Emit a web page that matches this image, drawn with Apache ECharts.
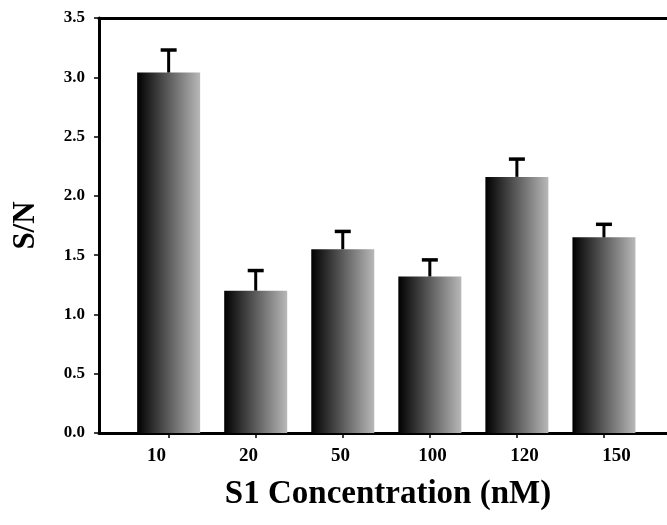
<!DOCTYPE html>
<html>
<head>
<meta charset="utf-8">
<script src="https://cdn.jsdelivr.net/npm/echarts@6/dist/echarts.min.js"></script>
<style>
html,body{margin:0;padding:0;background:#fff;}
#c{width:667px;height:525px;}
</style>
</head>
<body>
<div id="c"></div>
<script>
var categories = ['10', '20', '50', '100', '120', '150'];
var snValues = [3.04, 1.20, 1.55, 1.32, 2.16, 1.65];
var snErrors = [0.19, 0.17, 0.15, 0.14, 0.15, 0.11];

var positions = categories.map(function (c, i) { return i + 1; });
var barData = snValues.map(function (v, i) { return [positions[i], v]; });
var errData = snValues.map(function (v, i) { return [positions[i], v, v + snErrors[i]]; });

var FONT = "'Liberation Serif', 'Times New Roman', serif";

var chart = echarts.init(document.getElementById('c'), null, {renderer: 'canvas'});
chart.setOption({
  animation: false,
  backgroundColor: '#fff',
  grid: {left: 99, width: 592, top: 18, bottom: 92, containLabel: false, outerBoundsMode: 'none'},
  xAxis: [
    {
      type: 'value', position: 'bottom', min: 0.2, max: 7,
      axisLine: {show: true, onZero: false, lineStyle: {color: '#000', width: 3}},
      axisTick: {show: true, customValues: positions, length: 5, lineStyle: {color: '#000', width: 1.5}},
      axisLabel: {show: false},
      splitLine: {show: false},
      name: 'S1 Concentration (nM)',
      nameLocation: 'middle',
      nameGap: 45,
      nameTextStyle: {fontFamily: FONT, fontWeight: 'bold', fontSize: 33, color: '#000', padding: [0, 14, 0, 0]}
    },
    {
      type: 'value', position: 'bottom', min: 0.374, max: 6.809,
      axisLine: {show: false},
      axisTick: {show: false},
      splitLine: {show: false},
      axisLabel: {
        show: true, customValues: positions, margin: 14,
        fontFamily: FONT, fontWeight: 'bold', fontSize: 19, color: '#000',
        formatter: function (v) { return categories[Math.round(v) - 1]; }
      }
    },
    {
      type: 'value', position: 'top', min: 0, max: 1,
      axisLine: {show: true, onZero: false, lineStyle: {color: '#000', width: 3}},
      axisTick: {show: false}, axisLabel: {show: false}, splitLine: {show: false}
    }
  ],
  yAxis: {
    type: 'value', min: 0, max: 3.5, interval: 0.5,
    axisLine: {show: true, lineStyle: {color: '#000', width: 3}},
    axisTick: {show: true, length: 5, lineStyle: {color: '#000', width: 1.5}},
    splitLine: {show: false},
    axisLabel: {
      margin: 14, fontFamily: FONT, fontWeight: 'bold', fontSize: 17, color: '#000',
      formatter: function (v) { return v.toFixed(1); }
    },
    name: 'S/N',
    nameLocation: 'middle',
    nameGap: 58,
    nameTextStyle: {fontFamily: FONT, fontWeight: 'bold', fontSize: 31, color: '#000'}
  },
  series: [
    {
      type: 'bar',
      xAxisIndex: 0,
      data: barData,
      barWidth: 63,
      itemStyle: {
        color: new echarts.graphic.LinearGradient(0, 0, 1, 0, [
          {offset: 0, color: '#000000'},
          {offset: 1, color: '#b8b8b8'}
        ])
      },
      z: 2
    },
    {
      type: 'custom',
      xAxisIndex: 0,
      data: errData,
      renderItem: function (params, api) {
        var x = api.value(0);
        var base = api.coord([x, api.value(1)]);
        var top = api.coord([x, api.value(2)]);
        var half = 8;
        return {
          type: 'group',
          children: [
            {type: 'line', shape: {x1: base[0], y1: base[1], x2: top[0], y2: top[1]},
             style: {stroke: '#000', lineWidth: 3}},
            {type: 'line', shape: {x1: top[0] - half, y1: top[1], x2: top[0] + half, y2: top[1]},
             style: {stroke: '#000', lineWidth: 3.5}}
          ]
        };
      },
      z: 3
    }
  ]
});
</script>
</body>
</html>
